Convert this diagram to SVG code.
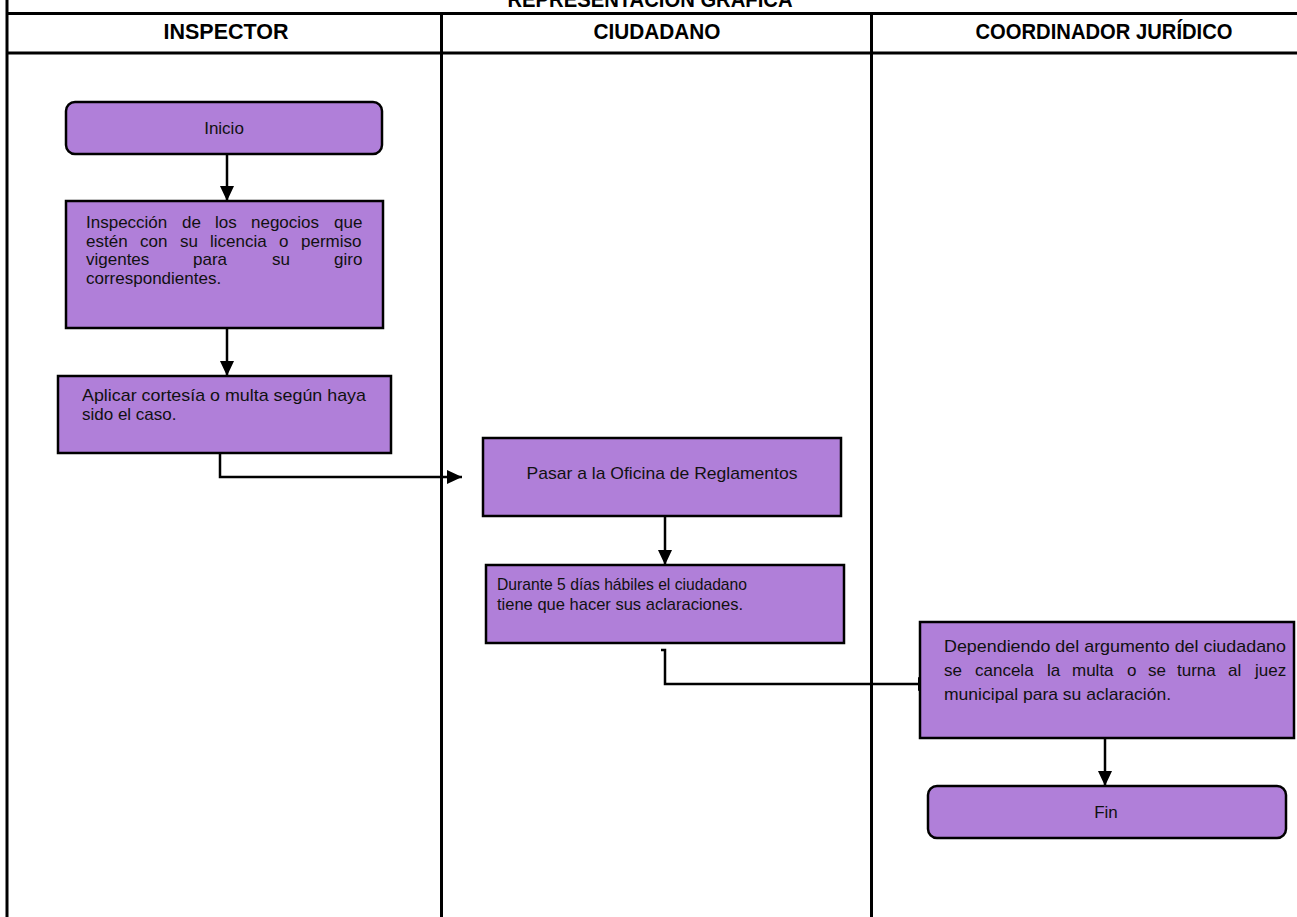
<svg xmlns="http://www.w3.org/2000/svg" width="1297" height="917" viewBox="0 0 1297 917">
<style>
.lane{stroke:#000;stroke-width:3;fill:none}
.hdr{font-family:"Liberation Sans Narrow","Liberation Sans",Arial,sans-serif;font-weight:bold;font-size:22px;fill:#000;text-anchor:middle}
.box{fill:#B07FD9;stroke:#000;stroke-width:2.5}
.t{font-family:"Liberation Sans","Arial",sans-serif;font-size:17px;fill:#111}
.c{text-anchor:middle}
.conn{stroke:#000;stroke-width:2.5;fill:none}
</style>
<defs>
<marker id="ah" markerUnits="userSpaceOnUse" markerWidth="16" markerHeight="14" refX="15" refY="7" orient="auto">
<path d="M0,0 L15,7 L0,14 Z" fill="#000"/>
</marker>
</defs>
<rect width="1297" height="917" fill="#fff"/>
<g id="table">
<text class="hdr" x="650" y="7" textLength="285" lengthAdjust="spacingAndGlyphs">REPRESENTACIÓN GRÁFICA</text>
<line class="lane" x1="7" y1="0" x2="7" y2="917"/>
<line class="lane" x1="7" y1="13.5" x2="1297" y2="13.5"/>
<line class="lane" x1="7" y1="53" x2="1297" y2="53"/>
<line class="lane" x1="441.5" y1="13" x2="441.5" y2="917"/>
<line class="lane" x1="871.5" y1="13" x2="871.5" y2="917"/>
<text class="hdr" x="226" y="39" textLength="125" lengthAdjust="spacingAndGlyphs">INSPECTOR</text>
<text class="hdr" x="657" y="39" textLength="127" lengthAdjust="spacingAndGlyphs">CIUDADANO</text>
<text class="hdr" x="1104" y="39" textLength="257" lengthAdjust="spacingAndGlyphs">COORDINADOR JURÍDICO</text>
</g>
<g id="connectors">
<line class="conn" x1="227" y1="154" x2="227" y2="201" marker-end="url(#ah)"/>
<line class="conn" x1="227" y1="328" x2="227" y2="376" marker-end="url(#ah)"/>
<path class="conn" d="M220,453 V477 H462" marker-end="url(#ah)"/>
<line class="conn" x1="665" y1="516" x2="665" y2="565" marker-end="url(#ah)"/>
<path class="conn" d="M661,650 H665 V684 H933" marker-end="url(#ah)"/>
<line class="conn" x1="1105" y1="738" x2="1105" y2="786" marker-end="url(#ah)"/>
</g>
<g id="n1">
<rect class="box" x="66" y="102" width="316" height="52" rx="9"/>
<text class="t c" x="224" y="134">Inicio</text>
</g>
<g id="n2">
<rect class="box" x="66" y="201" width="317" height="127"/>
<text class="t" y="228"><tspan x="86">Inspección</tspan><tspan x="182">de</tspan><tspan x="215">los</tspan><tspan x="251">negocios</tspan><tspan x="334">que</tspan></text>
<text class="t" y="246.5"><tspan x="86">estén</tspan><tspan x="140">con</tspan><tspan x="180">su</tspan><tspan x="210">licencia</tspan><tspan x="279">o</tspan><tspan x="301">permiso</tspan></text>
<text class="t" y="265"><tspan x="86">vigentes</tspan><tspan x="193">para</tspan><tspan x="272">su</tspan><tspan x="334">giro</tspan></text>
<text class="t" x="86" y="283.5">correspondientes.</text>
</g>
<g id="n3">
<rect class="box" x="58" y="376" width="333" height="77"/>
<text class="t" x="82" y="401" textLength="284" lengthAdjust="spacingAndGlyphs">Aplicar cortesía o multa según haya</text>
<text class="t" x="82" y="420">sido el caso.</text>
</g>
<g id="n4">
<rect class="box" x="483" y="438" width="358" height="78"/>
<text class="t c" x="662" y="479" textLength="271" lengthAdjust="spacingAndGlyphs">Pasar a la Oficina de Reglamentos</text>
</g>
<g id="n5">
<rect class="box" x="486" y="565" width="358" height="78"/>
<text class="t" x="497" y="590" textLength="250" lengthAdjust="spacingAndGlyphs">Durante 5 días hábiles el ciudadano</text>
<text class="t" x="497" y="610" textLength="246" lengthAdjust="spacingAndGlyphs">tiene que hacer sus aclaraciones.</text>
</g>
<g id="n6">
<rect class="box" x="920" y="622" width="374" height="116"/>
<text class="t" x="944" y="652" textLength="342" lengthAdjust="spacingAndGlyphs">Dependiendo del argumento del ciudadano</text>
<text class="t" y="676"><tspan x="944">se</tspan><tspan x="975">cancela</tspan><tspan x="1047">la</tspan><tspan x="1072">multa</tspan><tspan x="1127">o</tspan><tspan x="1148">se</tspan><tspan x="1177">turna</tspan><tspan x="1228">al</tspan><tspan x="1255">juez</tspan></text>
<text class="t" x="944" y="700" textLength="227" lengthAdjust="spacingAndGlyphs">municipal para su aclaración.</text>
</g>
<g id="n7">
<rect class="box" x="928" y="786" width="358" height="52" rx="9"/>
<text class="t c" x="1106" y="818">Fin</text>
</g>
</svg>
